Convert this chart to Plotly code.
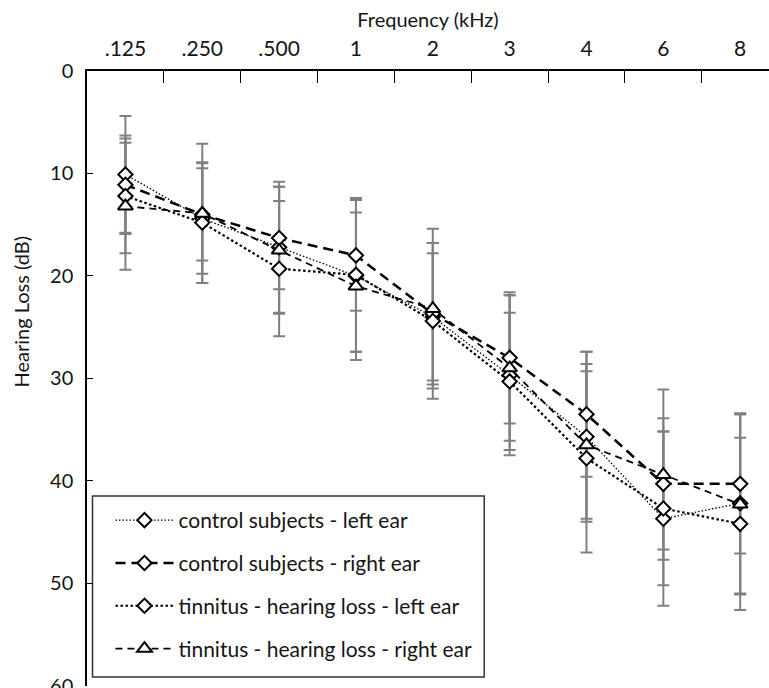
import plotly.graph_objects as go

# ---- data ----
freqs = [".125", ".250", ".500", "1", "2", "3", "4", "6", "8"]

ctrl_left = [10.1, 14.4, 17.2, 20.0, 24.0, 29.7, 35.7, 43.7, 42.2]
ctrl_left_sd = [5.7, 5.4, 6.4, 7.4, 6.2, 7.8, 8.3, 8.5, 8.8]

ctrl_right = [11.1, 14.0, 16.3, 18.0, 23.7, 28.0, 33.5, 40.3, 40.3]
ctrl_right_sd = [4.8, 4.5, 5.0, 5.4, 6.9, 6.4, 6.1, 6.4, 6.8]

tin_left = [12.2, 14.8, 19.3, 19.9, 24.4, 30.3, 37.8, 42.7, 44.2]
tin_left_sd = [5.6, 5.9, 6.6, 7.5, 7.6, 6.7, 9.2, 7.5, 8.4]

tin_right = [13.2, 13.9, 17.5, 21.0, 23.2, 29.0, 36.5, 39.4, 42.3]
tin_right_sd = [6.2, 6.8, 6.2, 7.2, 7.8, 7.1, 7.2, 8.3, 8.8]

y_ticks = [0, 10, 20, 30, 40, 50, 60]

names = [
    "control subjects - left ear",
    "control subjects - right ear",
    "tinnitus - hearing loss - left ear",
    "tinnitus - hearing loss - right ear",
]
series = [ctrl_left, ctrl_right, tin_left, tin_right]
sds = [ctrl_left_sd, ctrl_right_sd, tin_left_sd, tin_right_sd]
dashes = ["1.5px,2px", "10px,6px", "2.5px,2.5px", "7px,5px"]
widths = [1.3, 2.5, 2.2, 1.8]
symbols = ["diamond", "diamond", "diamond", "triangle-up"]

FONT = "Lato, 'Open Sans', sans-serif"
TXT = "#151515"

# plot-area geometry in pixels
W, H = 769, 688
L, T, B = 86.5, 71, 2
PW, PH = W - L, H - T - B


def px_x(px):
    return (px - L) / PW


def px_y(py):
    return (H - B - py) / PH


fig = go.Figure()

# error bars first (beneath all lines/markers)
for vals, sd in zip(series, sds):
    fig.add_trace(go.Scatter(
        x=freqs, y=vals, mode="markers",
        marker=dict(size=1, color="rgba(0,0,0,0)"),
        error_y=dict(type="data", array=sd, symmetric=True,
                     color="#808080", thickness=2, width=6),
        showlegend=False, hoverinfo="skip",
    ))

for i, (vals, name) in enumerate(zip(series, names)):
    fig.add_trace(go.Scatter(
        x=freqs, y=vals, mode="lines+markers", name=name,
        legendgroup=f"g{i}",
        line=dict(color="black", width=widths[i], dash=dashes[i]),
        marker=dict(symbol=symbols[i], size=11 if symbols[i] == "diamond" else 13,
                    color="white", line=dict(color="black", width=2)),
    ))

# legend frame
fig.add_shape(type="rect", xref="paper", yref="paper",
              x0=px_x(92), x1=px_x(484), y0=px_y(677), y1=px_y(496),
              line=dict(color="#333333", width=1.5), fillcolor="white", layer="below")

# y-axis title (placed like the reference, above the plot centre)
fig.add_annotation(text="Hearing Loss (dB)", xref="paper", yref="paper",
                   x=px_x(20), y=px_y(312), showarrow=False, textangle=-90,
                   xanchor="center", yanchor="middle",
                   font=dict(family=FONT, size=20, color=TXT))

fig.update_layout(
    width=W, height=H,
    margin=dict(l=L, r=0, t=T, b=B, pad=0, autoexpand=False),
    plot_bgcolor="white", paper_bgcolor="white",
    font=dict(family=FONT, color=TXT, size=20),
    showlegend=True,
    legend=dict(
        x=px_x(110), y=px_y(500), xanchor="left", yanchor="top",
        bgcolor="rgba(0,0,0,0)", borderwidth=0,
        font=dict(family=FONT, size=21, color=TXT),
        itemwidth=58, tracegroupgap=12.5,
    ),
    xaxis=dict(
        type="category", side="top", range=[-0.5, 8.375], automargin=False,
        showline=True, linecolor="black", linewidth=1.5,
        ticks="inside", tickson="boundaries", ticklen=12, tickcolor="black", tickwidth=1.3,
        showgrid=False, zeroline=False,
        tickfont=dict(family=FONT, size=21, color=TXT),
        ticklabelstandoff=5,
        title=dict(text="Frequency (kHz)", font=dict(family=FONT, size=20, color=TXT), standoff=2),
    ),
    yaxis=dict(
        range=[60.03, 0], tickvals=y_ticks, automargin=False,
        showline=True, linecolor="black", linewidth=1.5,
        ticks="inside", ticklen=6, tickcolor="black", tickwidth=1.3,
        showgrid=False, zeroline=False,
        tickfont=dict(family=FONT, size=20, color=TXT),
        ticklabelstandoff=8, ticklabeloverflow="allow",
    ),
)

fig.write_html("out.html")
